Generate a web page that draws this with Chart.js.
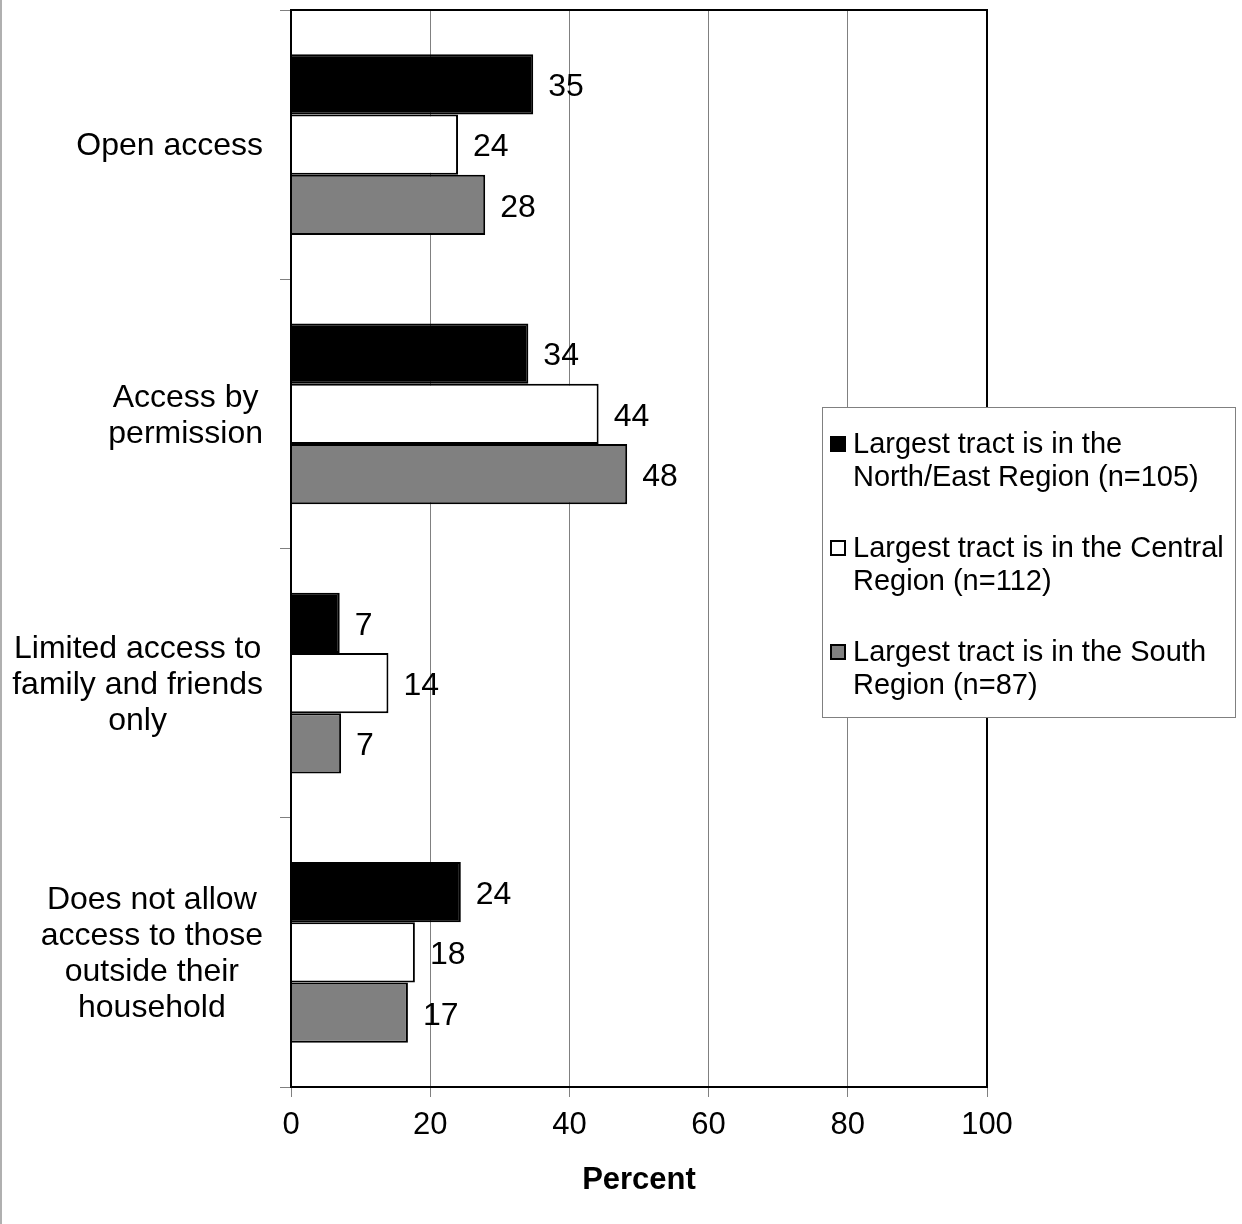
<!DOCTYPE html>
<html>
<head>
<meta charset="utf-8">
<script src="https://cdn.jsdelivr.net/npm/chart.js@4"></script>
<style>
  body { margin: 0; background: #fff; }
  canvas { display: block; }
</style>
</head>
<body>
<canvas id="myChart" width="1242" height="1224"></canvas>
<script>
const categories = [
  "Open access",
  ["Access by", "permission"],
  ["Limited access to", "family and friends", "only"],
  ["Does not allow", "access to those", "outside their", "household"]
];
const northEast = [34.8, 34.1, 7.0, 24.4];
const central = [24.0, 44.2, 14.0, 17.8];
const south = [27.9, 48.3, 7.2, 16.8];
const seriesLines = [
  ["Largest tract is in the", "North/East Region (n=105)"],
  ["Largest tract is in the Central", "Region (n=112)"],
  ["Largest tract is in the South", "Region (n=87)"]
];
const seriesColors = ["#000000", "#ffffff", "#808080"];
const xTicks = [0, 20, 40, 60, 80, 100];
const axisTitle = "Percent";

const FONT = "'Liberation Sans', Arial, Helvetica, sans-serif";

// white page + thin grey line at the left edge + box around plot
const framePlugin = {
  id: "frame",
  beforeDraw(chart) {
    const ctx = chart.ctx;
    ctx.save();
    ctx.fillStyle = "#fff";
    ctx.fillRect(0, 0, chart.width, chart.height);
    ctx.fillStyle = "#b0b0b0";
    ctx.fillRect(0, 0, 2, chart.height);
    ctx.restore();
  },
  afterDraw(chart) {
    const a = chart.chartArea;
    const ctx = chart.ctx;
    ctx.save();
    ctx.strokeStyle = "#000";
    ctx.lineWidth = 2;
    ctx.strokeRect(a.left, a.top, a.right - a.left, a.bottom - a.top);
    ctx.restore();
  }
};

// category labels: each block right-aligned to the axis, lines centred inside it
const categoryLabels = {
  id: "categoryLabels",
  afterDraw(chart) {
    const ctx = chart.ctx;
    const yScale = chart.scales.y;
    const right = yScale.right - 11 - 17;
    const lh = 36;
    ctx.save();
    ctx.font = "32px " + FONT;
    ctx.fillStyle = "#000";
    ctx.textAlign = "center";
    ctx.textBaseline = "middle";
    chart.data.labels.forEach((label, i) => {
      const lines = Array.isArray(label) ? label : [label];
      const w = Math.max(...lines.map((l) => ctx.measureText(l).width));
      const cx = right - w / 2;
      const yc = yScale.getPixelForTick(i) + 2;
      const y0 = yc - ((lines.length - 1) * lh) / 2;
      lines.forEach((l, k) => ctx.fillText(l, cx, y0 + k * lh));
    });
    ctx.restore();
  }
};

// value labels to the right of each bar
const valueLabels = {
  id: "valueLabels",
  afterDatasetsDraw(chart) {
    const ctx = chart.ctx;
    ctx.save();
    ctx.font = "32px " + FONT;
    ctx.fillStyle = "#000";
    ctx.textAlign = "left";
    ctx.textBaseline = "middle";
    chart.data.datasets.forEach((ds, i) => {
      chart.getDatasetMeta(i).data.forEach((bar, j) => {
        ctx.fillText(String(Math.round(ds.data[j])), bar.x + 15, bar.y + 3);
      });
    });
    ctx.restore();
  }
};

// boxed legend sitting over the right part of the plot
const boxLegend = {
  id: "boxLegend",
  afterDraw(chart) {
    const ctx = chart.ctx;
    const bx = 822, by = 407, bw = 414, bh = 311;
    ctx.save();
    ctx.fillStyle = "#fff";
    ctx.fillRect(bx, by, bw, bh);
    ctx.strokeStyle = "#808080";
    ctx.lineWidth = 1;
    ctx.strokeRect(bx + 0.5, by + 0.5, bw - 1, bh - 1);
    ctx.font = "29px " + FONT;
    ctx.textBaseline = "middle";
    ctx.textAlign = "left";
    chart.data.datasets.forEach((ds, i) => {
      const y0 = 444 + i * 104;
      ctx.fillStyle = ds.backgroundColor;
      ctx.fillRect(831, y0 - 7, 14, 14);
      ctx.strokeStyle = "#000";
      ctx.lineWidth = 2;
      ctx.strokeRect(831, y0 - 7, 14, 14);
      ctx.fillStyle = "#000";
      seriesLines[i].forEach((line, k) => {
        ctx.fillText(line, 853, y0 + 1 + k * 33);
      });
    });
    ctx.restore();
  }
};

const datasets = [northEast, central, south].map((vals, i) => ({
  label: seriesLines[i].join(" "),
  data: vals,
  backgroundColor: seriesColors[i],
  borderColor: "#000",
  borderWidth: 2,
  borderSkipped: "start",
  categoryPercentage: 0.672,
  barPercentage: 1.0
}));

const ctx = document.getElementById("myChart").getContext("2d");
const chart = new Chart(ctx, {
  type: "bar",
  data: { labels: categories, datasets: datasets },
  options: {
    indexAxis: "y",
    responsive: false,
    animation: false,
    devicePixelRatio: 1,
    layout: { padding: { top: 10, right: 255, left: 0, bottom: 0 } },
    plugins: {
      legend: { display: false },
      tooltip: { enabled: false }
    },
    scales: {
      x: {
        min: 0,
        max: 100,
        afterBuildTicks(scale) {
          scale.ticks = xTicks.map((v) => ({ value: v }));
        },
        afterFit(scale) {
          scale.height = 137;
          scale.paddingLeft = 0;
          scale.paddingRight = 0;
        },
        grid: {
          color: "#808080",
          lineWidth: 1,
          tickLength: 10,
          drawOnChartArea: true
        },
        border: { display: true, color: "#000", width: 2 },
        ticks: {
          color: "#000",
          padding: 10,
          maxRotation: 0,
          font: { family: FONT, size: 31 }
        },
        title: {
          display: true,
          text: axisTitle,
          color: "#000",
          padding: { top: 0, bottom: 25 },
          font: { family: FONT, size: 31, weight: "bold" }
        }
      },
      y: {
        afterFit(scale) {
          scale.width = 291;
          scale.paddingTop = 0;
          scale.paddingBottom = 0;
        },
        grid: {
          offset: true,
          color: "#808080",
          lineWidth: 1,
          tickLength: 11,
          drawOnChartArea: false
        },
        border: { display: true, color: "#000", width: 2 },
        ticks: { display: false }
      }
    }
  },
  plugins: [framePlugin, valueLabels, categoryLabels, boxLegend]
});
</script>
</body>
</html>
